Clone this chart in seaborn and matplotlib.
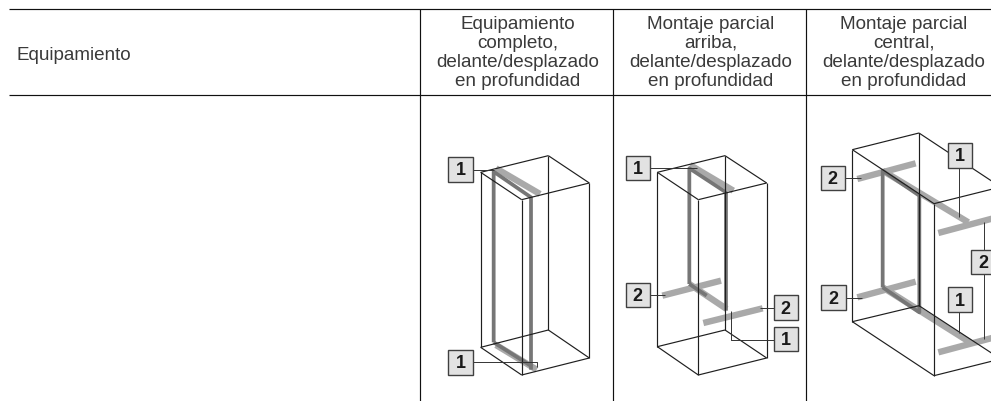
# table with three cabinet mounting diagrams

import pandas as pd
import seaborn as sns
import matplotlib.pyplot as plt
from matplotlib.patches import Rectangle

# header texts
row_label = "Equipamiento"
col_labels = [
    "Equipamiento\ncompleto,\ndelante/desplazado\nen profundidad",
    "Montaje parcial\narriba,\ndelante/desplazado\nen profundidad",
    "Montaje parcial\ncentral,\ndelante/desplazado\nen profundidad",
]
col_x = [518, 711, 904]

# table rules in pixels
table_rules = [
    [(9, 9.5), (991, 9.5)],
    [(9, 96), (991, 96)],
    [(420, 9.5), (420, 402)],
    [(613, 9.5), (613, 402)],
    [(806, 9.5), (806, 402)],
]

# cabinets (x, y in crop pixels at 3x)
origin_a = (420, 130)
corners_a = dict(A=(182, 130), B=(385, 80), C=(508, 162), D=(305, 212),
                 E=(182, 655), F=(385, 603), G=(508, 687), H=(305, 738))
light_a = [[(228, 118), (360, 195)], [(228, 648), (350, 722)]]
dark_a = [[(221, 640), (221, 128), (333, 205), (333, 722)], [(221, 640), (335, 712)]]
leaders_a = [[(158, 122), (222, 122)], [(158, 699), (350, 699), (350, 715)]]
tags_a = [("1", 85, 85), ("1", 85, 664)]

origin_b = (610, 130)
corners_b = dict(A=(142, 130), B=(345, 80), C=(470, 162), D=(265, 212),
                 E=(142, 653), F=(345, 603), G=(470, 687), H=(265, 738))
light_b = [[(240, 108), (370, 185)], [(157, 500), (333, 455)], [(280, 582), (458, 538)],
           [(238, 465), (350, 540)]]
dark_b = [[(238, 465), (238, 118), (348, 190), (348, 545)], [(238, 465), (290, 500)]]
leaders_b = [[(120, 117), (262, 117)], [(120, 497), (165, 497)], [(491, 538), (450, 538)],
             [(491, 632), (362, 632), (362, 545)]]
tags_b = [("1", 47, 80), ("2", 47, 462), ("2", 491, 499), ("1", 491, 594)]

origin_c = (805, 130)
corners_c = dict(A=(142, 62), B=(342, 12), C=(587, 174), D=(387, 224),
                 E=(142, 578), F=(342, 530), G=(587, 690), H=(387, 740))
light_c = [[(233, 125), (490, 280)], [(233, 475), (495, 640)], [(157, 150), (332, 103)],
           [(157, 505), (332, 458)], [(400, 312), (587, 262)], [(400, 670), (587, 620)]]
dark_c = [[(233, 475), (233, 125), (343, 200), (343, 550), (233, 475)]]
leaders_c = [[(120, 148), (168, 148)], [(463, 116), (463, 265)], [(536, 363), (536, 280)],
             [(536, 436), (536, 630)], [(463, 548), (463, 612)], [(122, 507), (170, 507)]]
tags_c = [("2", 47, 111), ("1", 428, 43), ("2", 499, 363), ("1", 428, 475), ("2", 49, 469)]

edges = ["AB", "BC", "CD", "DA", "EF", "FG", "GH", "HE", "AE", "BF", "CG", "DH"]
tag_size = 73


def to_px(pt, origin):
    return origin[0] + pt[0] / 3, origin[1] + pt[1] / 3


def draw_lines(ax, paths, color, lw):
    rows = []
    for i, path in enumerate(paths):
        for j, (x, y) in enumerate(path):
            rows.append({"path": i, "step": j, "x": x, "y": y})
    df = pd.DataFrame(rows)
    sns.lineplot(data=df, x="x", y="y", units="path", estimator=None, sort=False,
                 color=color, lw=lw, legend=False, ax=ax, solid_capstyle="butt")


sns.set_theme(style="white")
plt.rcParams['font.family'] = ['Liberation Sans', 'DejaVu Sans']

fig = plt.figure(figsize=(9.91, 4.02), dpi=100)
ax = fig.add_axes([0, 0, 1, 1])

draw_lines(ax, table_rules, "#111111", 0.85)

diagrams = [
    (origin_a, corners_a, light_a, dark_a, leaders_a, tags_a),
    (origin_b, corners_b, light_b, dark_b, leaders_b, tags_b),
    (origin_c, corners_c, light_c, dark_c, leaders_c, tags_c),
]
for origin, corners, light, dark, leaders, tags in diagrams:
    draw_lines(ax, [[to_px(p, origin) for p in path] for path in light], "#a9a9a9", 4.6)
    draw_lines(ax, [[to_px(p, origin) for p in path] for path in dark], "#767676", 2.7)
    box = [[to_px(corners[e[0]], origin), to_px(corners[e[1]], origin)] for e in edges]
    draw_lines(ax, box, "#1f1f1f", 0.85)
    draw_lines(ax, [[to_px(p, origin) for p in path] for path in leaders], "#333333", 0.7)
    for label, x, y in tags:
        px, py = to_px((x, y), origin)
        ax.add_patch(Rectangle((px, py), tag_size / 3, tag_size / 3, facecolor="#e2e2e2",
                               edgecolor="#404040", lw=1.0, zorder=5))
        ax.text(px + tag_size / 6, py + tag_size / 6 + 0.5, label, ha="center", va="center",
                fontsize=13, fontweight="bold", color="#1a1a1a", zorder=6)

ax.text(17, 55, row_label, ha="left", va="center", fontsize=13.6, color="#3a3a3a")
for x, label in zip(col_x, col_labels):
    ax.text(x, 53, label, ha="center", va="center", fontsize=13.6, color="#3a3a3a", linespacing=1.17)

ax.set_xlim(0, 991)
ax.set_ylim(402, 0)
ax.set_xlabel("")
ax.set_ylabel("")
ax.axis("off")

plt.savefig("out.png", dpi=100)
